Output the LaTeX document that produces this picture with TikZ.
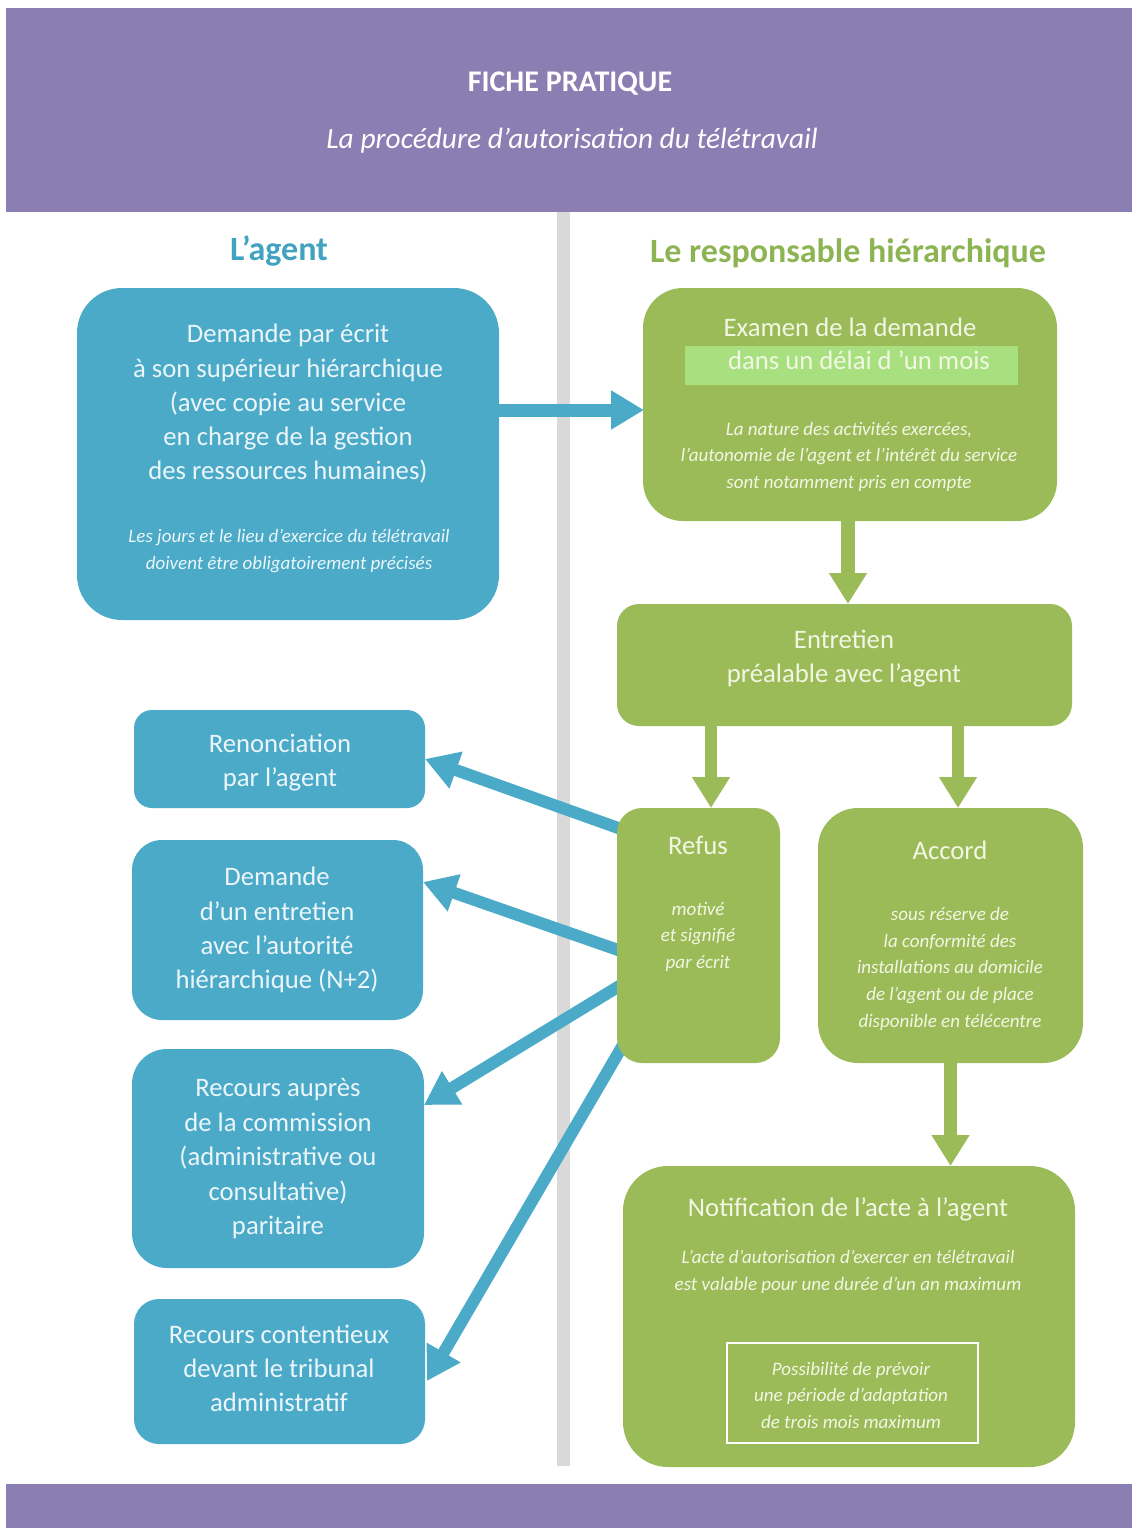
\documentclass[tikz,border=0pt]{standalone}
\usepackage{fontspec}
\setmainfont{Carlito}
\usetikzlibrary{arrows.meta}
\definecolor{purp}{RGB}{138,126,178}
\definecolor{teal}{RGB}{74,170,200}
\definecolor{grn}{RGB}{155,187,89}
\definecolor{hlgrn}{RGB}{168,224,128}
\definecolor{divgray}{RGB}{217,217,217}
\definecolor{tealhead}{RGB}{66,163,192}
\definecolor{grnhead}{RGB}{141,180,82}
\definecolor{btxt}{RGB}{236,246,250}
\definecolor{gtxt}{RGB}{242,247,228}
\pgfdeclarelayer{bg}
\pgfsetlayers{bg,main}
\tikzset{
  boxshape/.style={draw=none, inner sep=0pt, outer sep=0pt},
  bbox/.style={boxshape, fill=teal},
  gbox/.style={boxshape, fill=grn},
  maintxt/.style={anchor=mid, inner sep=0pt, yshift=-6.5pt, font=\fontsize{26.7}{30}\selectfont},
  notetxt/.style={anchor=mid, inner sep=0pt, yshift=-5pt, font=\itshape\fontsize{19}{22}\selectfont},
  headtxt/.style={anchor=mid, inner sep=0pt, yshift=-8pt, font=\bfseries\fontsize{34}{38}\selectfont},
  btext/.style={text=btxt},
  gtext/.style={text=gtxt},
  barrow/.style={draw=teal, line width=13pt, -{Triangle[length=33pt,width=37pt]}},
  garrow/.style={draw=grn, line width=14pt, -{Triangle[length=31pt,width=36pt]}},
}
\begin{document}
\begin{tikzpicture}[x=1pt,y=-1pt]
\useasboundingbox (0,0) rectangle (1132,1528);
% bands
\fill[purp] (6,8) rectangle (1132,212);
\fill[purp] (6,1484) rectangle (1132,1528);
\node[anchor=mid, inner sep=0pt, yshift=-6.5pt, text=white, font=\bfseries\fontsize{30}{34}\selectfont] (title) at (570,83) {FICHE PRATIQUE};
\node[anchor=mid, inner sep=0pt, yshift=-8pt, text=white, font=\itshape\fontsize{29.4}{33}\selectfont] (subtitle) at (572,138) {La procédure d’autorisation du télétravail};
% column headers
\node[headtxt, text=tealhead] (hagent) at (279,250) {L’agent};
\node[headtxt, text=grnhead] (hresp) at (848,252) {Le responsable hiérarchique};

% boxes
\node[bbox, minimum width=422pt, minimum height=332pt, rounded corners=45pt] (b1) at (288,454) {};
\node[bbox, minimum width=291pt, minimum height=98pt, rounded corners=18pt] (b2) at (279.5,759) {};
\node[bbox, minimum width=291pt, minimum height=180pt, rounded corners=30pt] (b3) at (277.5,930) {};
\node[bbox, minimum width=292pt, minimum height=219pt, rounded corners=35pt] (b4) at (278,1158.5) {};
\node[bbox, minimum width=291pt, minimum height=145pt, rounded corners=25pt] (b5) at (279.5,1371.5) {};
\node[gbox, minimum width=414pt, minimum height=233pt, rounded corners=40pt] (g1) at (850,404.5) {};
\node[boxshape, fill=hlgrn, minimum width=333pt, minimum height=39pt] (hl) at (851.5,365.5) {};
\node[gbox, minimum width=455pt, minimum height=122pt, rounded corners=22pt] (g2) at (844.5,665) {};
\node[gbox, minimum width=163pt, minimum height=255pt, rounded corners=25pt] (refus) at (698.5,935.5) {};
\node[gbox, minimum width=265pt, minimum height=255pt, rounded corners=40pt] (accord) at (950.5,935.5) {};
\node[gbox, minimum width=452pt, minimum height=301pt, rounded corners=45pt] (g5) at (849,1316.5) {};
\node[boxshape, draw=white, line width=2.5pt, minimum width=251pt, minimum height=100pt] (inner) at (852.5,1393) {};

% divider and connectors (behind boxes)
\coordinate (xa) at (711,0);
\coordinate (xb) at (958,0);
\begin{pgfonlayer}{bg}
\fill[divgray] (557,212) rectangle (570,1466);
\draw[barrow] ([yshift=44pt]b1.east) -- ([yshift=44pt,xshift=1pt]b1.east -| g1.west);
\draw[garrow] ([xshift=-2pt]g1.south) -- ([xshift=3.5pt]g2.north);
\draw[garrow, line width=12pt] (g2.south -| xa) -- (refus.north -| xa);
\draw[garrow, line width=12pt] (g2.south -| xb) -- (accord.north -| xb);
\draw[garrow, line width=13pt] (accord.south) -- (g5.north -| accord.south);
\draw[barrow, line width=12pt] ([yshift=106.5pt,xshift=4pt]refus.west) -- (b2.east);
\draw[barrow, line width=12pt] ([yshift=-15.5pt,xshift=4pt]refus.west) -- ([yshift=48pt]b3.east);
\draw[barrow, line width=12pt] ([yshift=-49.5pt,xshift=4pt]refus.west) -- ([yshift=53.5pt]b4.east);
\draw[barrow, line width=12pt] ([yshift=-109.5pt,xshift=6pt]refus.west) -- ([yshift=-9.5pt,xshift=2pt]b5.east);
\end{pgfonlayer}

% texts in blue boxes
\foreach \t [count=\i] in {Demande par écrit, à son supérieur hiérarchique, {(avec copie au service}, en charge de la gestion, {des ressources humaines)}}
  \node[maintxt, btext] (b1t\i) at (288,{334+34.25*(\i-1)}) {\t};
\foreach \t [count=\i] in {Les jours et le lieu d’exercice du télétravail, doivent être obligatoirement précisés}
  \node[notetxt, btext] (b1n\i) at (289,{535+27*(\i-1)}) {\t};
\foreach \t [count=\i] in {Renonciation, par l’agent}
  \node[maintxt, btext] (b2t\i) at (280,{744+34*(\i-1)}) {\t};
\foreach \t [count=\i] in {Demande, d’un entretien, avec l’autorité, {hiérarchique (N+2)}}
  \node[maintxt, btext] (b3t\i) at (277,{877+34.3*(\i-1)}) {\t};
\foreach \t [count=\i] in {Recours auprès, de la commission, {(administrative ou}, {consultative)}, paritaire}
  \node[maintxt, btext] (b4t\i) at (278,{1088+34.5*(\i-1)}) {\t};
\foreach \t [count=\i] in {Recours contentieux, devant le tribunal, administratif}
  \node[maintxt, btext] (b5t\i) at (279,{1335+34*(\i-1)}) {\t};

% texts in green boxes
\node[maintxt, gtext] (g1t1) at (850,328) {Examen de la demande};
\node[maintxt, gtext] (g1t2) at (859,361) {dans un délai d ’un mois};
\foreach \t [count=\i] in {{La nature des activités exercées,}, l’autonomie de l’agent et l’intérêt du service, sont notamment pris en compte}
  \node[notetxt, gtext] (g1n\i) at (849,{428+26.5*(\i-1)}) {\t};
\foreach \t [count=\i] in {Entretien, préalable avec l’agent}
  \node[maintxt, gtext] (g2t\i) at (844,{640+34*(\i-1)}) {\t};
\node[maintxt, gtext] (rft) at (698,846) {Refus};
\foreach \t [count=\i] in {motivé, et signifié, par écrit}
  \node[notetxt, gtext] (rfn\i) at (698,{908+26.5*(\i-1)}) {\t};
\node[maintxt, gtext] (act) at (950,851) {Accord};
\foreach \t [count=\i] in {sous réserve de, la conformité des, installations au domicile, de l’agent ou de place, disponible en télécentre}
  \node[notetxt, gtext] (acn\i) at (950,{913+26.75*(\i-1)}) {\t};
\node[maintxt, gtext] (g5t) at (848,1208) {Notification de l’acte à l’agent};
\foreach \t [count=\i] in {L’acte d’autorisation d’exercer en télétravail, est valable pour une durée d’un an maximum}
  \node[notetxt, gtext] (g5n\i) at (848,{1256+27*(\i-1)}) {\t};
\foreach \t [count=\i] in {Possibilité de prévoir, une période d’adaptation, de trois mois maximum}
  \node[notetxt, gtext] (inn\i) at (851,{1368+26.5*(\i-1)}) {\t};
\end{tikzpicture}
\end{document}
